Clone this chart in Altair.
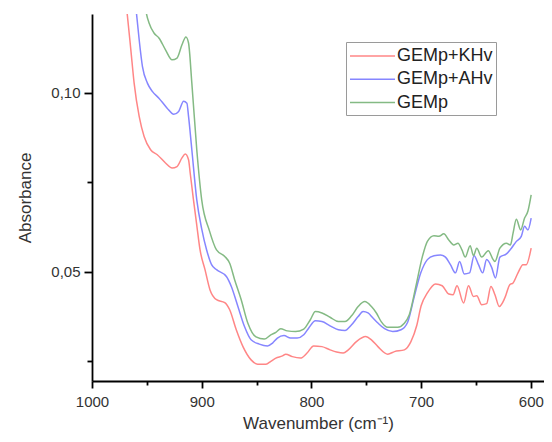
import altair as alt
import pandas as pd

SERIES = ["GEMp+KHv", "GEMp+AHv", "GEMp"]
COLORS = ["#ff8686", "#8686ff", "#84ba84"]

# GEMp+KHv (red)
KHV_WN = [975, 968, 964.6, 961.6, 957, 952.5, 946.6, 940.5, 933, 927, 922.5, 918, 915, 912, 910.5,
          907.5, 904.5, 901.5, 897, 892.5, 886.5, 879, 874.5, 868.5, 862.4, 855, 849, 841.4, 837,
          832.4, 826.4, 823.4, 817.4, 810, 804, 798, 790.4, 783, 777, 771, 766.4, 759, 750.5, 745.3,
          739.4, 730.4, 724.3, 715.3, 709.3, 704, 700, 694.3, 686.8, 680.8, 674.8, 670.9, 667.3,
          661.3, 656.8, 652.3, 649.3, 644.8, 640.3, 636.4, 632.7, 628.8, 623.7, 619.2, 616.2, 611.7,
          607.2, 604.2, 599.7]
KHV_ABS = [0.140, 0.1223, 0.112, 0.1027, 0.0934, 0.0878, 0.0841, 0.0827, 0.0804, 0.0790, 0.0794,
           0.0818, 0.0829, 0.0813, 0.0776, 0.0701, 0.063, 0.0561, 0.0506, 0.045, 0.0422, 0.0414,
           0.0394, 0.0338, 0.0291, 0.0254, 0.0242, 0.0242, 0.0250, 0.0259, 0.0265, 0.0270, 0.0263,
           0.0259, 0.0273, 0.0293, 0.0291, 0.0282, 0.0276, 0.0273, 0.0282, 0.0305, 0.0319, 0.0310,
           0.0291, 0.0270, 0.0277, 0.0282, 0.0305, 0.0350, 0.0405, 0.0441, 0.0466, 0.0461, 0.0438,
           0.0436, 0.0461, 0.0413, 0.0461, 0.0431, 0.0433, 0.0408, 0.0411, 0.0459, 0.0436, 0.0403,
           0.0427, 0.0464, 0.0469, 0.0497, 0.0520, 0.0520, 0.0566]

# GEMp+AHv (blue)
AHV_WN = [964, 959.5, 957, 954, 949.5, 945, 939, 931.5, 925.5, 921, 916.5, 913.5, 912, 909, 904.5,
          900, 895.5, 891, 886.5, 877.5, 873, 867, 861, 855, 847.5, 840, 835.4, 831, 825, 819, 813,
          807, 802.4, 796.4, 790.4, 783, 775.4, 769.4, 763.4, 757.4, 752.9, 748.4, 743.9, 739.4,
          733.3, 725.9, 718.3, 712.3, 706.3, 700.3, 694.3, 688.3, 682.3, 677.8, 673.3, 668.7, 664.9,
          660.7, 655.9, 651.7, 647.7, 643.9, 640.3, 635.8, 632.2, 628.2, 622.2, 617.7, 613.2, 608.7,
          605.7, 602.7, 599.7]
AHV_ABS = [0.138, 0.1223, 0.1148, 0.1073, 0.1027, 0.1004, 0.0985, 0.0957, 0.0940, 0.0948, 0.0976,
           0.0971, 0.0934, 0.0841, 0.0701, 0.062, 0.0561, 0.0520, 0.0506, 0.0487, 0.0459, 0.0403,
           0.0347, 0.0310, 0.0298, 0.0293, 0.0301, 0.0315, 0.0322, 0.0315, 0.0315, 0.0324, 0.0343,
           0.0363, 0.0361, 0.0349, 0.0338, 0.0336, 0.0352, 0.0375, 0.0389, 0.0385, 0.0371, 0.0357,
           0.0341, 0.0333, 0.0338, 0.0359, 0.0430, 0.0497, 0.0534, 0.0545, 0.0547, 0.0541, 0.0520,
           0.0497, 0.0529, 0.0494, 0.0497, 0.0545, 0.0520, 0.0497, 0.0534, 0.0513, 0.0483, 0.0541,
           0.0550, 0.0566, 0.0585, 0.0599, 0.0627, 0.0617, 0.0650]

# GEMp (green)
GEMP_WN = [955, 950.5, 948, 943.5, 939, 933, 927, 922.5, 918, 914.4, 912, 909, 904.5, 900, 893,
           886.5, 879, 874.5, 870, 864, 858, 850.5, 843, 837, 832.4, 828, 822, 814.4, 807, 801,
           796.4, 790.4, 783, 775.4, 769.4, 763.4, 757.4, 751.4, 745.3, 740.8, 736.4, 730.4, 721.3,
           715.3, 710.8, 704.8, 698.8, 694.3, 688.3, 683.8, 679.3, 674.8, 670.3, 666.4, 662.8, 659.8,
           655.3, 652.3, 649.3, 644.8, 638.8, 634.3, 632.7, 628.2, 622.2, 618.6, 616.2, 613.2, 609.3,
           605.7, 602.7, 599.7]
GEMP_ABS = [0.135, 0.1223, 0.1195, 0.1167, 0.1153, 0.1120, 0.1092, 0.1097, 0.1134, 0.1156, 0.1139,
            0.1027, 0.0841, 0.0701, 0.0615, 0.0561, 0.0543, 0.0524, 0.0478, 0.0422, 0.0357, 0.0318,
            0.0312, 0.0324, 0.0331, 0.0341, 0.0335, 0.0333, 0.0340, 0.0366, 0.0389, 0.0385, 0.0373,
            0.0361, 0.0361, 0.0377, 0.0403, 0.0417, 0.0403, 0.0385, 0.0361, 0.0345, 0.0345, 0.0356,
            0.0380, 0.0459, 0.0543, 0.0585, 0.0601, 0.0599, 0.0606, 0.0589, 0.0575, 0.0580, 0.0561,
            0.0541, 0.0573, 0.0545, 0.0566, 0.0541, 0.0559, 0.0534, 0.0529, 0.0566, 0.0580, 0.0575,
            0.0608, 0.0647, 0.0617, 0.0650, 0.0669, 0.0715]

X_TICKS = [1000, 950, 900, 850, 800, 750, 700, 650, 600]
Y_TICKS = [0.025, 0.05, 0.075, 0.10]

rows = []
for name, wn, ab in [(SERIES[0], KHV_WN, KHV_ABS), (SERIES[1], AHV_WN, AHV_ABS), (SERIES[2], GEMP_WN, GEMP_ABS)]:
    for w, a in zip(wn, ab):
        rows.append({"series": name, "wn": w, "abs": a})
df = pd.DataFrame(rows)

FONT = "Liberation Sans"

x_axis = alt.Axis(
    values=X_TICKS, format="d", title="Wavenumber (cm⁻¹)",
    labelExpr="datum.value % 100 == 0 ? datum.label : ''",
    tickSize={"condition": {"test": "datum.value % 100 == 0", "value": 7}, "value": 4},
    labelPadding=6, titlePadding=6, labelFlush=False,
)
y_axis = alt.Axis(
    values=Y_TICKS, format=".2f", title="Absorbance",
    labelExpr="abs((datum.value * 1000) % 50) < 1 ? replace(datum.label, '.', ',') : ''",
    tickSize={"condition": {"test": "abs((datum.value * 1000) % 50) < 1", "value": 8}, "value": 5},
    labelPadding=4, titlePadding=16,
)

legend = alt.Legend(
    title=None, orient="none", legendX=254, legendY=28,
    strokeColor="#9a9a9a", fillColor="white", padding=3,
    symbolType="M-1,0H3.5", symbolSize=400, symbolStrokeWidth=1.5,
    symbolFillColor="transparent",
    labelFontSize=18, labelFont=FONT, labelColor="#222",
    labelOffset=26, rowPadding=3.3,
)

chart = alt.Chart(df).mark_line(strokeWidth=1.5, clip=True, interpolate="monotone").encode(
    x=alt.X("wn:Q", scale=alt.Scale(domain=[588, 1000], reverse=True, nice=False, zero=False), axis=x_axis),
    y=alt.Y("abs:Q", scale=alt.Scale(domain=[0.0195, 0.122], nice=False, zero=False), axis=y_axis),
    color=alt.Color("series:N", scale=alt.Scale(domain=SERIES, range=COLORS), sort=SERIES, legend=legend),
    detail="series:N",
).properties(
    width=452, height=367,
    autosize=alt.AutoSizeParams(type="none"),
    padding={"left": 84, "top": 6, "right": 0, "bottom": 53},
).configure_view(stroke=None).configure_axis(
    grid=False, domainColor="black", domainWidth=1.8, tickColor="black", tickWidth=1.8,
    labelFont=FONT, labelFontSize=15, labelColor="#333",
    titleFont=FONT, titleFontSize=17, titleFontWeight="normal", titleColor="#333",
)

chart.save("out.html", embed_options={"renderer": "svg", "actions": False})
